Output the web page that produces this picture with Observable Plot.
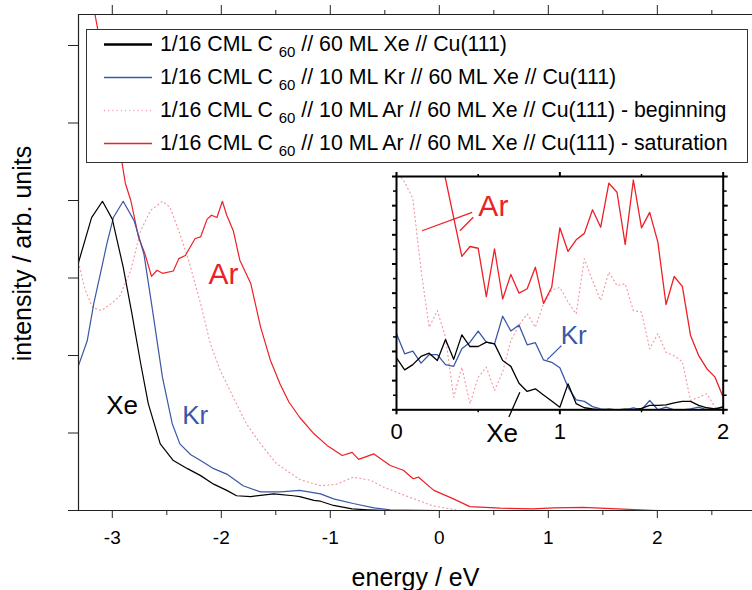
<!DOCTYPE html>
<html>
<head>
<meta charset="utf-8">
<script src="https://cdn.jsdelivr.net/npm/d3@7"></script>
<script src="https://cdn.jsdelivr.net/npm/@observablehq/plot@0.6"></script>
<style>
  html, body { margin: 0; padding: 0; background: #fff; }
  #wrap { position: relative; width: 752px; height: 590px; overflow: hidden; font-family: "Liberation Sans", Arial, Helvetica, sans-serif; }
  #wrap svg { position: absolute; }
  #legend { position: absolute; left: 86px; top: 29px; width: 662px; height: 134px; box-sizing: border-box; border: 1px solid #333; background: #fff; }
  .row { position: absolute; left: 0; height: 33px; line-height: 33px; white-space: nowrap; font-size: 21.3px; color: #000; }
  .row svg { position: absolute; left: 17px; top: 11px; }
  .row .lbl { position: absolute; left: 73px; top: 0; }
  .sub { font-size: 15px; position: relative; top: 6px; }
</style>
</head>
<body>
<div id="wrap"></div>
<script>
// ---------- main axes ----------
const xDomain = [-3.31, 2.873];
const yDomain = [0, 6.4];
const xMajor = [-3, -2, -1, 0, 1, 2];
const xMinor = [-2.5, -1.5, -0.5, 0.5, 1.5, 2.5];
const yTicks = [0, 1, 2, 3, 4, 5, 6];
const xLabel = "energy / eV";
const yLabel = "intensity / arb. units";

// ---------- main series ----------
const xeE = [-3.31, -3.19, -3.09, -3.00, -2.90, -2.82, -2.74, -2.67, -2.56, -2.44, -2.31, -2.19, -2.07, -1.95, -1.86, -1.73, -1.52, -1.34, -1.28, -1.15, -1.09, -0.97, -0.80, -0.66, -0.45, 0.0, 0.5, 1.0, 1.5, 2.0, 2.5, 2.873];
const xeI = [3.20, 3.78, 3.99, 3.76, 3.14, 2.54, 1.90, 1.38, 0.86, 0.645, 0.54, 0.45, 0.34, 0.26, 0.19, 0.18, 0.215, 0.19, 0.18, 0.13, 0.12, 0.065, 0.02, 0.01, 0.0, 0.0, 0.0, 0.0, 0.0, 0.0, 0.0, 0.0];

const krE = [-3.31, -3.23, -3.17, -3.09, -3.05, -2.99, -2.90, -2.80, -2.71, -2.64, -2.54, -2.45, -2.38, -2.28, -2.19, -2.07, -1.95, -1.80, -1.64, -1.46, -1.28, -1.09, -0.97, -0.79, -0.60, -0.45, 0.0, 0.5, 1.0, 1.5, 2.0, 2.5, 2.873];
const krI = [1.87, 2.19, 2.67, 3.18, 3.44, 3.78, 3.99, 3.74, 3.31, 2.67, 1.72, 1.12, 0.86, 0.72, 0.645, 0.54, 0.47, 0.32, 0.24, 0.24, 0.26, 0.215, 0.15, 0.09, 0.035, 0.01, 0.0, 0.0, 0.0, 0.0, 0.0, 0.0, 0.0];

const arBegE = [-3.31, -3.25, -3.18, -3.10, -3.00, -2.93, -2.83, -2.74, -2.65, -2.54, -2.47, -2.39, -2.30, -2.19, -2.10, -2.01, -1.89, -1.77, -1.64, -1.49, -1.28, -1.09, -0.94, -0.79, -0.63, -0.51, -0.27, -0.06, 0.19, 0.5, 1.0, 1.5, 2.0, 2.5, 2.873];
const arBegI = [3.20, 2.85, 2.62, 2.58, 2.68, 2.77, 3.10, 3.61, 3.87, 3.99, 3.91, 3.61, 3.23, 2.67, 2.15, 1.81, 1.46, 1.12, 0.86, 0.60, 0.40, 0.32, 0.34, 0.43, 0.39, 0.30, 0.17, 0.06, 0.0, 0.0, 0.0, 0.0, 0.0, 0.0, 0.0];

const arSatE = [-3.20, -3.16, -3.04, -2.91, -2.88, -2.83, -2.76, -2.70, -2.64, -2.59, -2.54, -2.44, -2.39, -2.33, -2.24, -2.19, -2.13, -2.09, -2.04, -1.99, -1.95, -1.89, -1.83, -1.73, -1.64, -1.55, -1.46, -1.38, -1.28, -1.15, -1.03, -0.89, -0.80, -0.74, -0.60, -0.45, -0.33, -0.24, -0.19, -0.05, 0.13, 0.28, 0.56, 0.86, 1.05, 1.32, 1.63, 2.0, 2.5, 2.873];
const arSatI = [7.0, 6.41, 5.5, 4.48, 4.22, 4.0, 3.53, 3.31, 3.02, 3.10, 3.06, 3.09, 3.25, 3.29, 3.51, 3.53, 3.76, 3.81, 3.78, 3.99, 3.81, 3.61, 3.23, 2.93, 2.37, 1.94, 1.63, 1.40, 1.20, 0.99, 0.84, 0.71, 0.75, 0.66, 0.73, 0.58, 0.52, 0.41, 0.43, 0.26, 0.15, 0.05, 0.03, 0.02, 0.035, 0.04, 0.02, 0.0, 0.0, 0.0];

// ---------- main annotations ----------
const mainLabels = ["Xe", "Kr", "Ar"];
const mainLabelE = [-2.91, -2.24, -1.98];
const mainLabelI = [1.355, 1.23, 3.05];

// ---------- inset ----------
const insetXDomain = [0, 2];
const insetYDomain = [0, 8];
const insetXMajor = [0, 1, 2];
const insetXMinor = [0.5, 1.5];
const insetYMajor = [0, 1, 2, 3, 4, 5, 6, 7, 8];
const insetYMinor = [0.5, 1.5, 2.5, 3.5, 4.5, 5.5, 6.5, 7.5];

const insetE = [0, 0.05, 0.10, 0.15, 0.20, 0.25, 0.30, 0.35, 0.40, 0.45, 0.50, 0.55, 0.60, 0.65, 0.70, 0.75, 0.80, 0.85, 0.90, 0.95, 1.00, 1.05, 1.10, 1.15, 1.20, 1.25, 1.30, 1.35, 1.40, 1.45, 1.50, 1.55, 1.60, 1.65, 1.70, 1.75, 1.80, 1.85, 1.90, 1.95, 2.00];
const insetXe = [1.78, 1.37, 1.55, 1.83, 1.94, 1.69, 2.41, 1.73, 2.57, 2.17, 2.17, 2.32, 2.26, 1.69, 1.49, 0.91, 0.63, 0.72, 0.51, 0.30, 0.09, 0.89, 0.21, 0.07, 0.03, 0, 0.02, 0, 0.02, 0, 0.05, 0.15, 0.15, 0.17, 0.24, 0.29, 0.29, 0.15, 0.07, 0.03, 0.09];
const insetKr = [2.61, 1.92, 2.01, 1.60, 1.89, 1.89, 1.55, 1.49, 2.09, 2.32, 2.70, 2.32, 2.26, 3.21, 2.70, 2.91, 2.23, 2.30, 1.71, 1.63, 1.44, 0.78, 0.34, 0.29, 0.11, 0.03, 0, 0, 0, 0.07, 0, 0.32, 0, 0.09, 0, 0, 0.03, 0.09, 0, 0.03, 0.11];
const insetArBeg = [8.2, 7.8, 7.25, 4.8, 2.83, 3.40, 2.49, 0.43, 1.46, 0.21, 1.12, 1.46, 0.66, 1.3, 2.38, 2.9, 3.29, 2.83, 3.63, 4.1, 4.20, 3.7, 3.29, 5.18, 4.43, 3.75, 4.72, 4.26, 4.32, 3.40, 3.35, 2.09, 2.61, 1.97, 1.85, 1.65, 0.32, 0.43, 0.55, 0.09, 0.0];
const insetArSatE = [0.25, 0.40, 0.45, 0.50, 0.55, 0.60, 0.65, 0.70, 0.75, 0.80, 0.85, 0.90, 0.95, 1.00, 1.05, 1.10, 1.15, 1.20, 1.25, 1.30, 1.35, 1.40, 1.45, 1.50, 1.55, 1.60, 1.65, 1.70, 1.75, 1.80, 1.85, 1.90, 1.95, 2.00];
const insetArSat = [9.25, 5.26, 5.60, 5.54, 3.88, 5.52, 3.80, 4.64, 4.00, 4.15, 4.89, 3.65, 4.20, 6.24, 5.43, 5.83, 6.05, 6.86, 6.26, 7.77, 7.46, 5.67, 7.88, 6.24, 6.77, 5.75, 3.61, 4.57, 4.23, 2.55, 1.86, 1.41, 1.12, 0.43];

// inset annotations (label + leader lines), in inset data units
const insetLabels = ["Ar", "Kr", "Xe"];
const insetLabelE = [0.593, 1.085, 0.647];
const insetLabelI = [6.98, 2.55, -0.82];
const insetLeaderE1 = [0.463, 0.47, 1.010, 0.755];
const insetLeaderI1 = [6.77, 6.60, 2.20, 0.60];
const insetLeaderE2 = [0.157, 0.388, 0.922, 0.688];
const insetLeaderI2 = [6.14, 6.14, 1.72, -0.25];
const insetLeaderSeries = ["Ar", "Ar", "Kr", "Xe"];

// ---------- legend ----------
const legendNames = ["Xe", "Kr", "ArBeg", "ArSat"];
const legendPre = ["1/16 CML C", "1/16 CML C", "1/16 CML C", "1/16 CML C"];
const legendPost = [" // 60 ML Xe // Cu(111)", " // 10 ML Kr // 60 ML Xe // Cu(111)", " // 10 ML Ar // 60 ML Xe // Cu(111) - beginning", " // 10 ML Ar // 60 ML Xe // Cu(111) - saturation"];

// ---------- styles ----------
const colors = {Xe: "#000000", Kr: "#3b57a6", ArBeg: "#f59aa2", ArSat: "#ee1f26"};
const DOTS = "1,3.2";
const FONT = "Liberation Sans, Arial, Helvetica, sans-serif";

const toRows = (E, I) => E.map((e, i) => ({e, v: I[i]}));

const main = Plot.plot({
  width: 752, height: 590,
  marginLeft: 78, marginRight: 0, marginTop: 14, marginBottom: 80,
  style: {fontFamily: FONT, fontSize: "19px", color: "#000", background: "transparent", overflow: "visible"},
  x: {domain: xDomain},
  y: {domain: yDomain},
  marks: [
    Plot.line(toRows(arBegE, arBegI), {x: "e", y: "v", stroke: colors.ArBeg, strokeWidth: 1.2, strokeDasharray: DOTS, clip: true}),
    Plot.line(toRows(arSatE, arSatI), {x: "e", y: "v", stroke: colors.ArSat, strokeWidth: 1.2, clip: true}),
    Plot.line(toRows(krE, krI), {x: "e", y: "v", stroke: colors.Kr, strokeWidth: 1.2, clip: true}),
    Plot.line(toRows(xeE, xeI), {x: "e", y: "v", stroke: colors.Xe, strokeWidth: 1.2, clip: true}),
    Plot.ruleX([xDomain[0]], {stroke: "#222", strokeWidth: 1.2}),
    Plot.ruleY([yDomain[0]], {stroke: "#222", strokeWidth: 1.2}),
    Plot.ruleY([yDomain[1]], {stroke: "#222", strokeWidth: 1.2}),
    Plot.axisX(xMajor, {anchor: "bottom", tickSize: 8, tickPadding: 12, fontSize: 19, tickFormat: d => String(d), label: null, stroke: "#222"}),
    Plot.axisX(xMinor, {anchor: "bottom", tickSize: 5, tickFormat: () => "", label: null, stroke: "#222"}),
    Plot.axisX(xMajor, {anchor: "top", tickSize: 10, tickFormat: () => "", label: null, stroke: "#222"}),
    Plot.axisX(xMinor, {anchor: "top", tickSize: 5, tickFormat: () => "", label: null, stroke: "#222"}),
    Plot.axisY(yTicks, {anchor: "left", tickSize: 10, tickFormat: () => "", label: null, stroke: "#222"}),
    Plot.text([xLabel], {frameAnchor: "bottom", dy: 67, fontSize: 25, lineAnchor: "middle"}),
    Plot.text([yLabel], {frameAnchor: "left", dx: -56, dy: -9, rotate: -90, fontSize: 25, lineAnchor: "middle", textAnchor: "middle"}),
    Plot.text(mainLabels.map((t, i) => ({t, e: mainLabelE[i], v: mainLabelI[i]})), {
      x: "e", y: "v", text: "t", lineAnchor: "middle",
      fill: d => colors[d.t === "Ar" ? "ArSat" : d.t],
      fontSize: d => d.t === "Ar" ? 30 : 26
    })
  ]
});
main.style.left = "0px";
main.style.top = "0px";

// inset frame: px x 396..722.7, y 176..409.3
const inset = Plot.plot({
  width: 366, height: 290,
  marginLeft: 16, marginRight: 23.3, marginTop: 10, marginBottom: 46.7,
  style: {fontFamily: FONT, fontSize: "22px", color: "#000", background: "transparent", overflow: "visible"},
  x: {domain: insetXDomain},
  y: {domain: insetYDomain},
  marks: [
    Plot.frame({fill: "white", stroke: "none"}),
    Plot.line(toRows(insetE, insetArBeg), {x: "e", y: "v", stroke: colors.ArBeg, strokeWidth: 1.2, strokeDasharray: DOTS, clip: true}),
    Plot.line(toRows(insetArSatE, insetArSat), {x: "e", y: "v", stroke: colors.ArSat, strokeWidth: 1.3, clip: true}),
    Plot.line(toRows(insetE, insetKr), {x: "e", y: "v", stroke: colors.Kr, strokeWidth: 1.3, clip: true}),
    Plot.line(toRows(insetE, insetXe), {x: "e", y: "v", stroke: colors.Xe, strokeWidth: 1.3, clip: true}),
    Plot.frame({stroke: "#000", strokeWidth: 2}),
    Plot.axisX(insetXMajor, {anchor: "bottom", tickSize: 5, tickPadding: 9, fontSize: 22, tickFormat: d => String(d), label: null, strokeWidth: 2}),
    Plot.axisX(insetXMinor, {anchor: "bottom", tickSize: 3, tickFormat: () => "", label: null, strokeWidth: 1.5}),
    Plot.axisX(insetXMajor, {anchor: "top", tickSize: 5, tickFormat: () => "", label: null, strokeWidth: 2}),
    Plot.axisX(insetXMinor, {anchor: "top", tickSize: 3, tickFormat: () => "", label: null, strokeWidth: 1.5}),
    Plot.axisY(insetYMajor, {anchor: "left", tickSize: 4, tickFormat: () => "", label: null, strokeWidth: 2}),
    Plot.axisY(insetYMinor, {anchor: "left", tickSize: 3, tickFormat: () => "", label: null, strokeWidth: 1.5}),
    Plot.axisY(insetYMajor, {anchor: "right", tickSize: 4, tickFormat: () => "", label: null, strokeWidth: 2}),
    Plot.axisY(insetYMinor, {anchor: "right", tickSize: 3, tickFormat: () => "", label: null, strokeWidth: 1.5}),
    Plot.link(insetLeaderE1.map((e, i) => ({x1: e, y1: insetLeaderI1[i], x2: insetLeaderE2[i], y2: insetLeaderI2[i], s: insetLeaderSeries[i]})), {
      x1: "x1", y1: "y1", x2: "x2", y2: "y2",
      stroke: d => colors[d.s === "Ar" ? "ArSat" : d.s], strokeWidth: 1.3
    }),
    Plot.text(insetLabels.map((t, i) => ({t, e: insetLabelE[i], v: insetLabelI[i]})), {
      x: "e", y: "v", text: "t", lineAnchor: "middle",
      fill: d => colors[d.t === "Ar" ? "ArSat" : d.t],
      fontSize: d => d.t === "Ar" ? 30 : 26
    })
  ]
});
inset.style.left = "380px";
inset.style.top = "166px";

const wrap = document.getElementById("wrap");
wrap.appendChild(main);
wrap.appendChild(inset);

// legend
const legend = document.createElement("div");
legend.id = "legend";
legendNames.forEach((name, i) => {
  const row = document.createElement("div");
  row.className = "row";
  row.style.top = (-2.5 + 33 * i) + "px";
  const sw = name === "Xe" ? 2.6 : 1.4;
  const dash = name === "ArBeg" ? ` stroke-dasharray="${DOTS}"` : "";
  row.innerHTML = `<svg width="48" height="11"><line x1="0" x2="48" y1="5.5" y2="5.5" stroke="${colors[name]}" stroke-width="${sw}"${dash}/></svg>` +
    `<span class="lbl">${legendPre[i]} <span class="sub">60</span>${legendPost[i]}</span>`;
  legend.appendChild(row);
});
wrap.appendChild(legend);
</script>
</body>
</html>
